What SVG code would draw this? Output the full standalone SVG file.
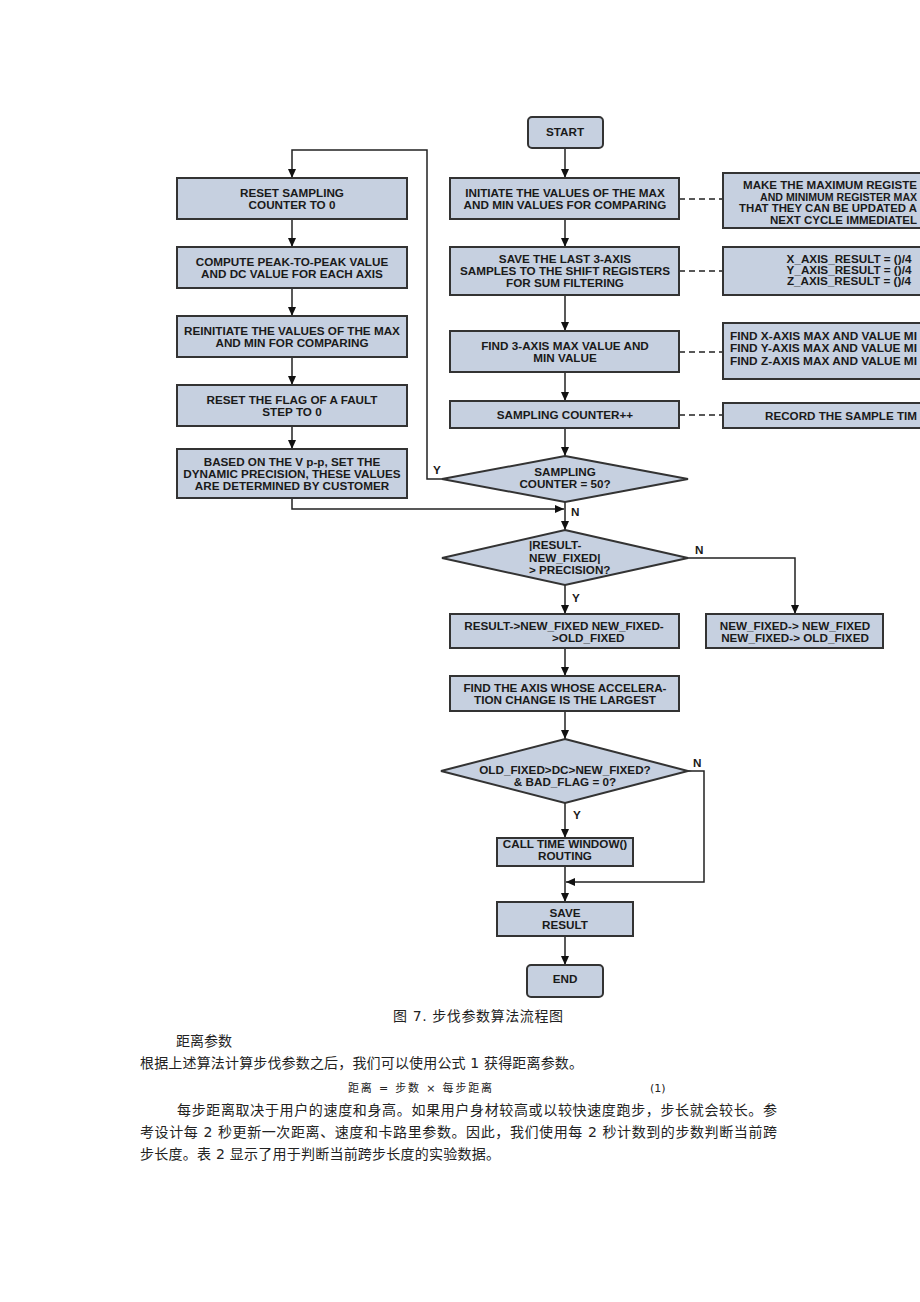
<svg xmlns="http://www.w3.org/2000/svg" width="920" height="1302" viewBox="0 0 920 1302">
<style>
.box{fill:#c6d0e0;stroke:#333;stroke-width:2}
.t{font-family:"Liberation Sans",Arial,sans-serif;font-weight:bold;font-size:11.7px;fill:#1a1a1a;text-anchor:middle}
.s{text-anchor:start}
.ln{fill:none;stroke:#222;stroke-width:1.5}
.dash{fill:none;stroke:#222;stroke-width:1.5;stroke-dasharray:6,4}
.cn{font-family:"DejaVu Sans","Noto Sans CJK SC",sans-serif;font-size:14px;fill:#222}
</style>
<defs>
<marker id="ah" markerUnits="userSpaceOnUse" markerWidth="9" markerHeight="8" refX="9" refY="4" orient="auto">
<path d="M0,0 L9,4 L0,8 z" fill="#111"/>
</marker>
</defs>
<rect width="920" height="1302" fill="#fff"/>

<g id="connectors">
<path class="ln" d="M565,148 V178" marker-end="url(#ah)"/>
<path class="ln" d="M565,219 V247" marker-end="url(#ah)"/>
<path class="ln" d="M565,295 V331" marker-end="url(#ah)"/>
<path class="ln" d="M565,372 V401" marker-end="url(#ah)"/>
<path class="ln" d="M565,428 V456" marker-end="url(#ah)"/>
<path class="ln" d="M565,502 V530" marker-end="url(#ah)"/>
<path class="ln" d="M442,479 H427 V150 H292 V178" marker-end="url(#ah)"/>
<path class="ln" d="M292,219 V247" marker-end="url(#ah)"/>
<path class="ln" d="M292,288 V316" marker-end="url(#ah)"/>
<path class="ln" d="M292,357 V385" marker-end="url(#ah)"/>
<path class="ln" d="M292,426 V449" marker-end="url(#ah)"/>
<path class="ln" d="M292,498 V509 H564" marker-end="url(#ah)"/>
<path class="ln" d="M565,585 V614" marker-end="url(#ah)"/>
<path class="ln" d="M688,558 H795 V614" marker-end="url(#ah)"/>
<path class="ln" d="M565,648 V676" marker-end="url(#ah)"/>
<path class="ln" d="M565,711 V739" marker-end="url(#ah)"/>
<path class="ln" d="M565,803 V838" marker-end="url(#ah)"/>
<path class="ln" d="M688,771 H704 V882 H566" marker-end="url(#ah)"/>
<path class="ln" d="M565,866 V902" marker-end="url(#ah)"/>
<path class="ln" d="M565,936 V965" marker-end="url(#ah)"/>
<path class="dash" d="M679,199 H723"/>
<path class="dash" d="M679,271 H723"/>
<path class="dash" d="M679,352 H723"/>
<path class="dash" d="M679,415 H723"/>
<text class="t" x="437" y="474">Y</text>
<text class="t s" x="571" y="516">N</text>
<text class="t s" x="695" y="554">N</text>
<text class="t s" x="572" y="602">Y</text>
<text class="t s" x="693" y="767">N</text>
<text class="t s" x="573" y="819">Y</text>
</g>

<g id="start">
<rect class="box" x="528" y="117" width="75" height="31" rx="4"/>
<text class="t" x="565" y="136">START</text>
</g>
<g id="init">
<rect class="box" x="450" y="178" width="229" height="41"/>
<text class="t" x="565" y="196.5">INITIATE THE VALUES OF THE MAX</text>
<text class="t" x="565" y="208.5">AND MIN VALUES FOR COMPARING</text>
</g>
<g id="save3">
<rect class="box" x="450" y="247" width="229" height="48"/>
<text class="t" x="565" y="263">SAVE THE LAST 3-AXIS</text>
<text class="t" x="565" y="275">SAMPLES TO THE SHIFT REGISTERS</text>
<text class="t" x="565" y="287">FOR SUM FILTERING</text>
</g>
<g id="find3">
<rect class="box" x="450" y="331" width="229" height="41"/>
<text class="t" x="565" y="349.5">FIND 3-AXIS MAX VALUE AND</text>
<text class="t" x="565" y="361.5">MIN VALUE</text>
</g>
<g id="counterpp">
<rect class="box" x="450" y="401" width="229" height="27"/>
<text class="t" x="565" y="418.5">SAMPLING COUNTER++</text>
</g>
<g id="dec50">
<polygon class="box" points="565,456 688,479 565,502 442,479"/>
<text class="t" x="565" y="476">SAMPLING</text>
<text class="t" x="565" y="488">COUNTER = 50?</text>
</g>

<g id="resetsamp">
<rect class="box" x="177" y="178" width="230" height="41"/>
<text class="t" x="292" y="196.5">RESET SAMPLING</text>
<text class="t" x="292" y="208.5">COUNTER TO 0</text>
</g>
<g id="compute">
<rect class="box" x="177" y="247" width="230" height="41"/>
<text class="t" x="292" y="265.5">COMPUTE PEAK-TO-PEAK VALUE</text>
<text class="t" x="292" y="277.5">AND DC VALUE FOR EACH AXIS</text>
</g>
<g id="reinit">
<rect class="box" x="177" y="316" width="230" height="41"/>
<text class="t" x="292" y="334.5">REINITIATE THE VALUES OF THE MAX</text>
<text class="t" x="292" y="346.5">AND MIN FOR COMPARING</text>
</g>
<g id="resetflag">
<rect class="box" x="177" y="385" width="230" height="41"/>
<text class="t" x="292" y="403.5">RESET THE FLAG OF A FAULT</text>
<text class="t" x="292" y="415.5">STEP TO 0</text>
</g>
<g id="based">
<rect class="box" x="177" y="449" width="230" height="49"/>
<text class="t" x="292" y="465.5">BASED ON THE V p-p, SET THE</text>
<text class="t" x="292" y="477.5">DYNAMIC PRECISION, THESE VALUES</text>
<text class="t" x="292" y="489.5">ARE DETERMINED BY CUSTOMER</text>
</g>

<g id="makemax">
<rect class="box" x="723" y="173" width="260" height="55"/>
<text class="t s" x="743" y="189" textLength="174" lengthAdjust="spacingAndGlyphs">MAKE THE MAXIMUM REGISTE</text>
<text class="t s" x="760" y="200.7" style="font-size:10.6px">AND MINIMUM REGISTER MAX</text>
<text class="t s" x="739" y="212.4" textLength="178" lengthAdjust="spacingAndGlyphs">THAT THEY CAN BE UPDATED A</text>
<text class="t s" x="770" y="224" textLength="147" lengthAdjust="spacingAndGlyphs">NEXT CYCLE IMMEDIATEL</text>
</g>
<g id="axisresult">
<rect class="box" x="723" y="247" width="260" height="48"/>
<text class="t" x="849" y="263">X_AXIS_RESULT = ()/4</text>
<text class="t" x="849" y="274">Y_AXIS_RESULT = ()/4</text>
<text class="t" x="849" y="285">Z_AXIS_RESULT = ()/4</text>
</g>
<g id="findxyz">
<rect class="box" x="723" y="323" width="260" height="56"/>
<text class="t s" x="730" y="340" textLength="187" lengthAdjust="spacingAndGlyphs">FIND X-AXIS MAX AND VALUE MI</text>
<text class="t s" x="730" y="352.3" textLength="187" lengthAdjust="spacingAndGlyphs">FIND Y-AXIS MAX AND VALUE MI</text>
<text class="t s" x="730" y="364.6" textLength="187" lengthAdjust="spacingAndGlyphs">FIND Z-AXIS MAX AND VALUE MI</text>
</g>
<g id="record">
<rect class="box" x="723" y="403" width="260" height="25"/>
<text class="t s" x="765" y="420" textLength="152" lengthAdjust="spacingAndGlyphs">RECORD THE SAMPLE TIM</text>
</g>

<g id="decprec">
<polygon class="box" points="565,530 688,558 565,585 442,558"/>
<text class="t s" x="529" y="549">|RESULT-</text>
<text class="t s" x="529" y="562">NEW_FIXED|</text>
<text class="t s" x="529" y="574">&gt; PRECISION?</text>
</g>
<g id="resultfixed">
<rect class="box" x="450" y="614" width="229" height="34"/>
<text class="t" x="564" y="630">RESULT-&gt;NEW_FIXED NEW_FIXED-</text>
<text class="t s" x="552" y="642">&gt;OLD_FIXED</text>
</g>
<g id="newfixed">
<rect class="box" x="706" y="614" width="177" height="34"/>
<text class="t" x="795" y="630">NEW_FIXED-&gt; NEW_FIXED</text>
<text class="t" x="795" y="642">NEW_FIXED-&gt; OLD_FIXED</text>
</g>
<g id="findaxis">
<rect class="box" x="450" y="676" width="229" height="35"/>
<text class="t" x="565" y="692">FIND THE AXIS WHOSE ACCELERA-</text>
<text class="t" x="565" y="704">TION CHANGE IS THE LARGEST</text>
</g>
<g id="decold">
<polygon class="box" points="565,739 688,771 565,803 441,771"/>
<text class="t" x="565" y="774">OLD_FIXED&gt;DC&gt;NEW_FIXED?</text>
<text class="t" x="565" y="786">&amp; BAD_FLAG = 0?</text>
</g>
<g id="calltw">
<rect class="box" x="497" y="838" width="136" height="28"/>
<text class="t" x="565" y="847.5">CALL TIME WINDOW()</text>
<text class="t" x="565" y="859.5">ROUTING</text>
</g>
<g id="saveresult">
<rect class="box" x="497" y="902" width="136" height="34"/>
<text class="t" x="565" y="917">SAVE</text>
<text class="t" x="565" y="929">RESULT</text>
</g>
<g id="end">
<rect class="box" x="527" y="965" width="76" height="32" rx="4"/>
<text class="t" x="565" y="983">END</text>
</g>

<g id="body-text">
<text class="cn" x="393" y="1021" textLength="170" lengthAdjust="spacing">图 7. 步伐参数算法流程图</text>
<text class="cn" x="176" y="1046">距离参数</text>
<text class="cn" x="140" y="1068" textLength="443" lengthAdjust="spacing">根据上述算法计算步伐参数之后，我们可以使用公式 1 获得距离参数。</text>
<text class="cn" x="348" y="1092" style="font-size:11px" textLength="144" lengthAdjust="spacing">距离 = 步数 × 每步距离</text>
<text class="cn" x="650" y="1092" style="font-size:11px">(1)</text>
<text class="cn" x="177" y="1115" textLength="600" lengthAdjust="spacing">每步距离取决于用户的速度和身高。如果用户身材较高或以较快速度跑步，步长就会较长。参</text>
<text class="cn" x="140" y="1137" textLength="637" lengthAdjust="spacing">考设计每 2 秒更新一次距离、速度和卡路里参数。因此，我们使用每 2 秒计数到的步数判断当前跨</text>
<text class="cn" x="140" y="1159" textLength="360" lengthAdjust="spacing">步长度。表 2 显示了用于判断当前跨步长度的实验数据。</text>
</g>
</svg>
